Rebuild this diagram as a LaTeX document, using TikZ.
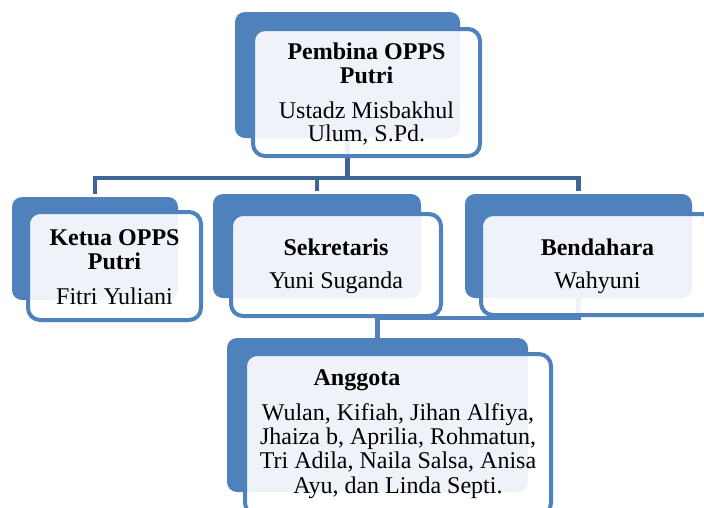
\documentclass[tikz,border=0pt]{standalone}
\usepackage{fontspec}
\setmainfont{Liberation Serif}
\definecolor{accent}{HTML}{4F81BD}
\definecolor{linkdark}{HTML}{3E6596}
\begin{document}
\begin{tikzpicture}[x=1pt,y=-1pt,
  back/.style={fill=accent, rounded corners=10pt, inner sep=0pt},
  front/.style={draw=accent, line width=4pt, fill=white, fill opacity=0.91, rounded corners=12pt, inner sep=0pt},
  conn/.style={draw=linkdark, line width=4.5pt},
  conn2/.style={draw=accent, line width=4.5pt},
  ttl/.style={font=\fontsize{24}{24}\selectfont\bfseries, anchor=base, inner sep=0pt},
  txt/.style={font=\fontsize{24}{24}\selectfont, anchor=base, inner sep=0pt}]
\useasboundingbox (0,0) rectangle (704,507);
% back blocks
\node[back, minimum width=225pt, minimum height=126pt] (pb) at (347.5,75) {};
\node[back, minimum width=166pt, minimum height=103pt] (kb) at (95,248.5) {};
\node[back, minimum width=208pt, minimum height=104pt] (sb) at (317,246) {};
\node[back, minimum width=227pt, minimum height=104pt] (bb) at (578.5,246) {};
\node[back, minimum width=301pt, minimum height=154pt] (ab) at (377.5,415) {};
% connectors
\coordinate (bus) at (347.5,178);
\draw[conn] (pb.south) -- (bus);
\draw[conn, shorten >=3pt] (bus) -| (kb.north);
\draw[conn, shorten >=3pt] (bus) -| (sb.north);
\draw[conn, shorten >=3pt] (bus) -| (bb.north);
\draw[conn2] (bb.south) -- ++(0,20) -| (ab.north);
% front blocks
\node[front, minimum width=227pt, minimum height=127pt] (pf) at (366.5,92.5) {};
\node[front, minimum width=173pt, minimum height=108pt] (kf) at (114.5,266) {};
\node[front, minimum width=210pt, minimum height=102pt] (sf) at (336,265) {};
\node[front, minimum width=233pt, minimum height=101pt] (bf) at (597.5,264.5) {};
\node[front, minimum width=306pt, minimum height=161pt] (af) at (398,434.5) {};
% texts
\node[ttl] (p1) at (366.5,59) {Pembina OPPS};
\node[ttl] (p2) at (366.5,83) {Putri};
\node[txt] (p3) at (366.5,118.5) {Ustadz Misbakhul};
\node[txt] (p4) at (366.5,141) {Ulum, S.Pd.};
\node[ttl] (k1) at (114.5,245) {Ketua OPPS};
\node[ttl] (k2) at (114.5,269) {Putri};
\node[txt] (k3) at (114.5,304) {Fitri Yuliani};
\node[ttl] (s1) at (336,255) {Sekretaris};
\node[txt] (s2) at (336,288) {Yuni Suganda};
\node[ttl] (b1) at (597.5,255) {Bendahara};
\node[txt] (b2) at (597.5,288) {Wahyuni};
\node[ttl] (a1) at (357,385.5) {Anggota};
\node[txt] (a2) at (398,420) {Wulan, Kifiah, Jihan Alfiya,};
\node[txt] (a3) at (398,444) {Jhaiza b, Aprilia, Rohmatun,};
\node[txt] (a4) at (398,468.5) {Tri Adila, Naila Salsa, Anisa};
\node[txt] (a5) at (398,493) {Ayu, dan Linda Septi.};
\end{tikzpicture}
\end{document}
